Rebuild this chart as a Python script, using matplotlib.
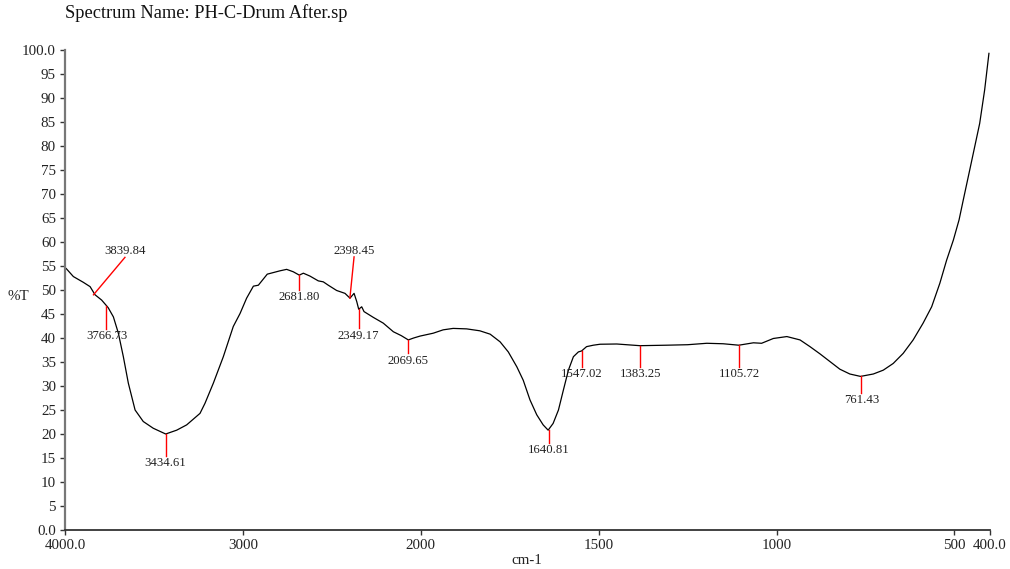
import numpy as np
import matplotlib
matplotlib.use("Agg")
import matplotlib.pyplot as plt
from matplotlib.ticker import FixedLocator, FixedFormatter

# ---- spectrum data (wavenumber in cm-1, transmittance in %T) ----
wavenumber = [
    4000, 3994, 3953, 3897, 3859, 3831, 3794, 3766, 3757, 3728, 3700, 3672,
    3644, 3606, 3560, 3504, 3434, 3372, 3316, 3241, 3213, 3166, 3110, 3054,
    3016, 2979, 2941, 2913, 2863, 2791, 2754, 2717, 2683, 2660, 2623, 2576,
    2548, 2520, 2473, 2426, 2398, 2375, 2360, 2349, 2332, 2319, 2267, 2211,
    2154, 2110, 2070, 2040, 2004, 1965, 1937, 1909, 1871, 1834, 1805, 1777,
    1754, 1730, 1712, 1693, 1674, 1656, 1642, 1628, 1613, 1599, 1585, 1571,
    1557, 1548, 1534, 1515, 1496, 1449, 1384, 1309, 1250, 1196, 1150, 1106,
    1065, 1042, 1009, 971, 934, 906, 878, 850, 822, 794, 764, 728, 700, 672,
    644, 616, 588, 564, 541, 522, 503, 487, 475, 457, 429, 415, 403,
]
transmittance = [
    54.6, 54.5, 52.8, 51.6, 50.7, 49.0, 47.9, 46.7, 46.3, 44.4, 41.0, 36.1,
    30.6, 25.0, 22.6, 21.2, 20.0, 20.8, 21.9, 24.3, 26.4, 30.6, 36.1, 42.4,
    45.1, 48.3, 50.8, 51.0, 53.3, 54.0, 54.3, 53.8, 53.1, 53.5, 52.9, 51.9,
    51.7, 51.0, 49.9, 49.3, 48.3, 49.3, 47.6, 46.0, 46.5, 45.5, 44.3, 43.1,
    41.3, 40.5, 39.6, 40.0, 40.4, 41.0, 41.7, 42.0, 41.9, 41.5, 40.8, 39.2,
    37.1, 34.0, 31.2, 27.1, 24.0, 21.9, 20.8, 22.2, 25.0, 29.2, 33.3, 36.1,
    37.1, 37.3, 38.2, 38.5, 38.7, 38.75, 38.4, 38.5, 38.6, 38.9, 38.8, 38.5,
    39.0, 38.9, 39.9, 40.3, 39.6, 38.2, 36.7, 35.1, 33.5, 32.5, 32.0, 32.5,
    33.3, 34.7, 36.8, 39.6, 43.1, 46.5, 51.4, 56.2, 60.4, 64.6, 68.8, 75.0,
    84.7, 91.7, 99.3,
]

# ---- labelled peaks ----
peak_wavenumber = [3839.84, 3766.73, 3434.61, 2681.80, 2398.45, 2349.17,
                   2069.65, 1640.81, 1547.02, 1383.25, 1105.72, 761.43]
peak_transmittance = [49.0, 46.7, 20.0, 53.1, 48.3, 46.0,
                      39.6, 20.8, 37.3, 38.4, 38.5, 32.0]

# where each marker line ends (label anchor), as (wavenumber, %T)
label_anchor = [(3663, 56.8), (3766.73, 41.9), (3434.61, 15.4), (2681.80, 50.0),
                (2375, 56.9), (2349.17, 42.0), (2069.65, 36.8), (1640.81, 18.1),
                (1547.02, 34.0), (1383.25, 34.0), (1105.72, 34.0), (761.43, 28.6)]

x_ticks = [4000, 3000, 2000, 1500, 1000, 500, 400]
x_tick_labels = ["4000.0", "3000", "2000", "1500", "1000", "500", "400.0"]
y_ticks = list(range(0, 101, 5))
y_tick_labels = ["0.0"] + [str(v) for v in range(5, 100, 5)] + ["100.0"]


# Instrument-style abscissa: scale doubles below 2000 cm-1
def fwd(x):
    x = np.asarray(x, dtype=float)
    return np.where(x >= 2000, x, 2 * x - 2000)


def inv(u):
    u = np.asarray(u, dtype=float)
    return np.where(u >= 2000, u, (u + 2000) / 2)


serif = "Liberation Serif"
fig = plt.figure(figsize=(10.10, 5.69), dpi=100)
W, H = 1010, 569
ax = fig.add_axes([65 / W, (H - 530) / H, (990 - 65) / W, (530 - 50) / H])
ax.set_xscale("function", functions=(fwd, inv))
ax.set_xlim(4000, 400)
ax.set_ylim(0, 100)

ax.plot(wavenumber, transmittance, color="black", lw=0.9)

for (pw, pt, (ax_x, ax_y)) in zip(peak_wavenumber, peak_transmittance, label_anchor):
    ax.plot([pw, ax_x], [pt, ax_y], color="red", lw=1.0)
    above = ax_y > pt
    ax.annotate(f"{pw:.2f}", xy=(ax_x, ax_y),
                xytext=(0, 4.5 if above else -5.2), textcoords="offset points",
                ha="center", va="center", fontsize=9.2, family=serif,
                color="#222222")

ax.xaxis.set_major_locator(FixedLocator(x_ticks))
ax.xaxis.set_major_formatter(FixedFormatter(x_tick_labels))
ax.xaxis.set_minor_locator(FixedLocator([]))
ax.yaxis.set_major_locator(FixedLocator(y_ticks))
ax.yaxis.set_major_formatter(FixedFormatter(y_tick_labels))

for lab in ax.get_xticklabels() + ax.get_yticklabels():
    lab.set_family(serif)
    lab.set_fontsize(10.8)
    lab.set_color("#222222")

ax.tick_params(axis="both", direction="out", length=3.5, width=1.0,
               color="#333333", pad=3)
ax.spines["top"].set_visible(False)
ax.spines["right"].set_visible(False)
ax.spines["left"].set_color("#777777")
ax.spines["left"].set_linewidth(1.6)
ax.spines["bottom"].set_color("#333333")
ax.spines["bottom"].set_linewidth(1.3)

fig.text(65 / W, 1 - 13 / H, "Spectrum Name: PH-C-Drum After.sp",
         family=serif, fontsize=13.2, ha="left", va="center", color="#111111")
fig.text(18 / W, 1 - 297 / H, "%T", family=serif, fontsize=10.8,
         ha="center", va="center", color="#222222")
fig.text(527 / W, 1 - 560 / H, "cm-1", family=serif, fontsize=10.8,
         ha="center", va="center", color="#222222")

fig.savefig("out.png", dpi=100)
